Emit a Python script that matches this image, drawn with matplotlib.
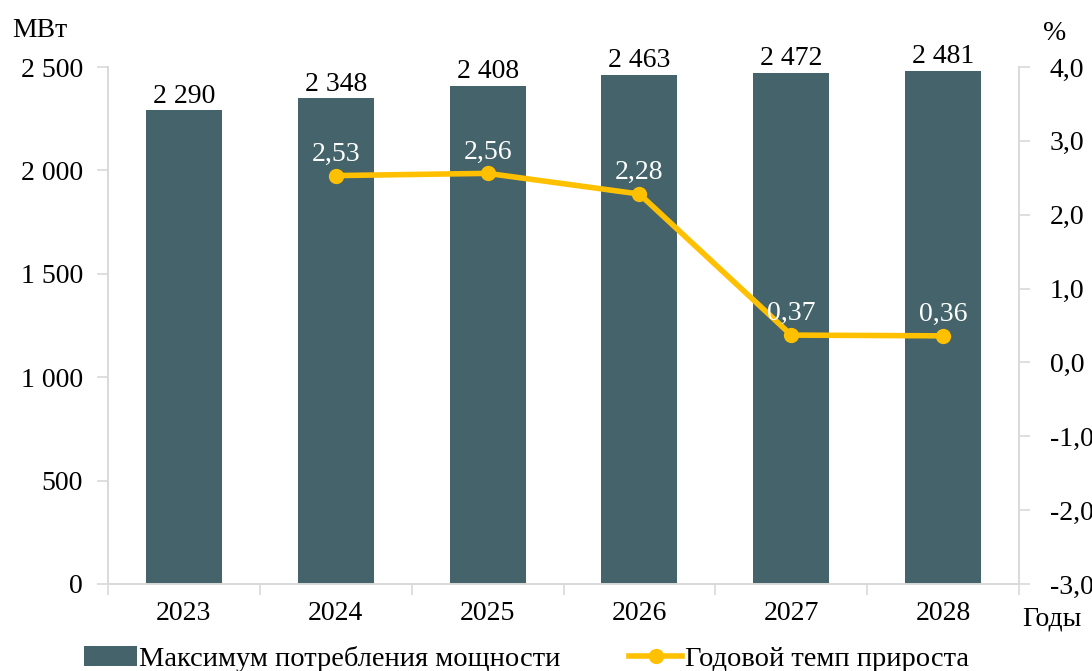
import matplotlib.pyplot as plt
import numpy as np

plt.rcParams['font.family'] = ['Liberation Serif', 'DejaVu Serif']

years = ["2023", "2024", "2025", "2026", "2027", "2028"]
power = [2290, 2348, 2408, 2463, 2472, 2481]
power_labels = ["2 290", "2 348", "2 408", "2 463", "2 472", "2 481"]
growth = [2.53, 2.56, 2.28, 0.37, 0.36]
growth_labels = ["2,53", "2,56", "2,28", "0,37", "0,36"]
left_ticks = [0, 500, 1000, 1500, 2000, 2500]
left_tick_labels = ["0", "500", "1 000", "1 500", "2 000", "2 500"]
right_ticks = [-3, -2, -1, 0, 1, 2, 3, 4]
right_tick_labels = ["-3,0", "-2,0", "-1,0", "0,0", "1,0", "2,0", "3,0", "4,0"]

bar_c = "#44636a"
line_c = "#ffc000"
grid_c = "#d9d9d9"
fs = 20

fig = plt.figure(figsize=(10.92, 6.71), dpi=100)
ax = fig.add_axes([0.0989, 0.1297, 0.8343, 0.7704])
x = np.arange(len(years))
bars = ax.bar(x, power, width=0.5, color=bar_c, label="Максимум потребления мощности", zorder=2)
ax.set_xlim(-0.5, len(years) - 0.5)
ax.set_ylim(0, 2500)
ax.set_yticks(left_ticks)
ax.set_yticklabels(left_tick_labels, fontsize=fs)
ax.set_xticks(x)
ax.set_xticklabels(years, fontsize=fs)
ax.tick_params(axis='x', length=0, pad=12)
ax.set_xticks(np.arange(len(years) + 1) - 0.5, minor=True)
ax.tick_params(axis='x', which='minor', length=8, color=grid_c, width=1.2)
ax.tick_params(axis='y', length=8, color=grid_c, width=1.2, pad=10)
ax.spines["top"].set_visible(False)
for s in ["left", "bottom", "right"]:
    ax.spines[s].set_color(grid_c)
    ax.spines[s].set_linewidth(1.2)

for xi, v, lab in zip(x, power, power_labels):
    ax.text(xi, v + 8, lab, ha='center', va='bottom', fontsize=fs)

ax2 = ax.twinx()
ax2.set_ylim(-3, 4)
ax2.set_yticks(right_ticks)
ax2.set_yticklabels(right_tick_labels, fontsize=fs)
ax2.tick_params(axis='y', length=8, color=grid_c, width=1.2, pad=14)
ax2.spines["top"].set_visible(False)
for s in ["left", "bottom", "right"]:
    ax2.spines[s].set_color(grid_c)
    ax2.spines[s].set_linewidth(1.2)
ln, = ax2.plot(x[1:], growth, color=line_c, lw=4, marker='o', ms=10,
               label="Годовой темп прироста", zorder=3)
for xi, v, lab in zip(x[1:], growth, growth_labels):
    ax2.text(xi, v + 0.12, lab, ha='center', va='bottom', fontsize=fs, color='white')

fig.text(0.011, 0.955, "МВт", fontsize=fs, va='center', ha='left')
fig.text(0.966, 0.950, "%", fontsize=fs, va='center', ha='center')
fig.text(0.936, 0.077, "Годы", fontsize=fs, va='center', ha='left')

fig.legend([bars, ln], ["Максимум потребления мощности", "Годовой темп прироста"],
           loc='center', bbox_to_anchor=(0.482, 0.018), ncol=2, frameon=False,
           fontsize=20.5, handlelength=1.85, handletextpad=0.1, columnspacing=2.4,
           borderaxespad=0)

fig.savefig("out.png", dpi=100)
